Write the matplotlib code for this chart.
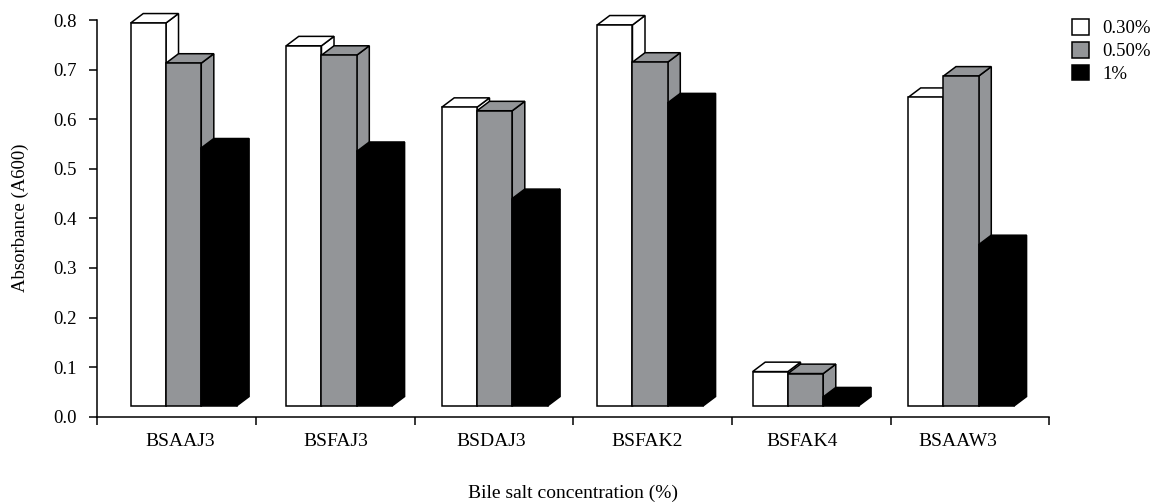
import numpy as np
import matplotlib.pyplot as plt
from matplotlib.patches import Polygon, Patch
import matplotlib.transforms as mtransforms

plt.rcParams['font.family'] = 'Liberation Serif'

# Données (absorbance à 600 nm)
souches = ['BSAAJ3', 'BSFAJ3', 'BSDAJ3', 'BSFAK2', 'BSFAK4', 'BSAAW3']
concentrations = ['0.30%', '0.50%', '1%']
abs_030 = [0.794, 0.748, 0.624, 0.790, 0.091, 0.644]
abs_050 = [0.713, 0.729, 0.617, 0.715, 0.087, 0.687]
abs_100 = [0.542, 0.535, 0.440, 0.633, 0.040, 0.347]
couleurs = ['white', '#939598', 'black']

# Géométrie des colonnes "3D"
largeur = 0.2224
pas = 0.98
debut = 0.2105
plancher = 0.0216
prof_x = 0.079
prof_y = 0.019


def colonne_3d(ax, x, h, couleur):
    # face avant, dessus et côté droit d'une colonne
    face = [(x, plancher), (x, h), (x + largeur, h), (x + largeur, plancher)]
    dessus = [(x, h), (x + prof_x, h + prof_y),
              (x + largeur + prof_x, h + prof_y), (x + largeur, h)]
    cote = [(x + largeur, plancher), (x + largeur, h),
            (x + largeur + prof_x, h + prof_y),
            (x + largeur + prof_x, plancher + prof_y)]
    for pts in (cote, dessus, face):
        ax.add_patch(Polygon(pts, closed=True, facecolor=couleur,
                             edgecolor='black', lw=1.1, clip_on=False,
                             joinstyle='miter'))


fig = plt.figure(figsize=(11.54, 5.03), dpi=100)
ax = fig.add_axes([97.3 / 1154, (503 - 416.7) / 503, 952 / 1154, 396.7 / 503])

series = [abs_030, abs_050, abs_100]
for i in range(len(souches)):
    x0 = debut + i * pas
    for j, valeurs in enumerate(series):
        colonne_3d(ax, x0 + j * largeur, valeurs[i], couleurs[j])

ax.set_xlim(0, 6)
ax.set_ylim(0, 0.8)
ax.set_xticks(np.arange(7))
ax.set_xticklabels([])
ax.set_yticks(np.arange(0, 0.81, 0.1))
ax.set_yticklabels([f'{v:.1f}' for v in np.arange(0, 0.81, 0.1)], fontsize=13.5)
ax.tick_params(direction='out', length=6, width=1.1, pad=9)
for cote in ['top', 'right']:
    ax.spines[cote].set_visible(False)
for cote in ['left', 'bottom']:
    ax.spines[cote].set_linewidth(1.1)

# étiquettes des souches
trans = mtransforms.blended_transform_factory(ax.transData, ax.transAxes)
for i, nom in enumerate(souches):
    centre = debut + i * pas + 1.5 * largeur - 0.02
    ax.text(centre, -0.063, nom, transform=trans, ha='center', va='center',
            fontsize=14)

fig.text(572.8 / 1154, 1 - 493 / 503, 'Bile salt concentration (%)',
         ha='center', va='center', fontsize=14)
fig.text(20.5 / 1154, 1 - 218 / 503, 'Absorbance (A600)', rotation=90,
         ha='center', va='center', fontsize=13.5)

poignees = [Patch(facecolor=c, edgecolor='black', lw=1.1) for c in couleurs]
fig.legend(poignees, concentrations, loc='upper left',
           bbox_to_anchor=(1072 / 1154, 1 - 19 / 503), frameon=False,
           fontsize=13.5, handlelength=0.9, handleheight=0.9,
           handletextpad=0.7, labelspacing=0.25, borderpad=0,
           borderaxespad=0)

fig.savefig('out.png', dpi=100)
